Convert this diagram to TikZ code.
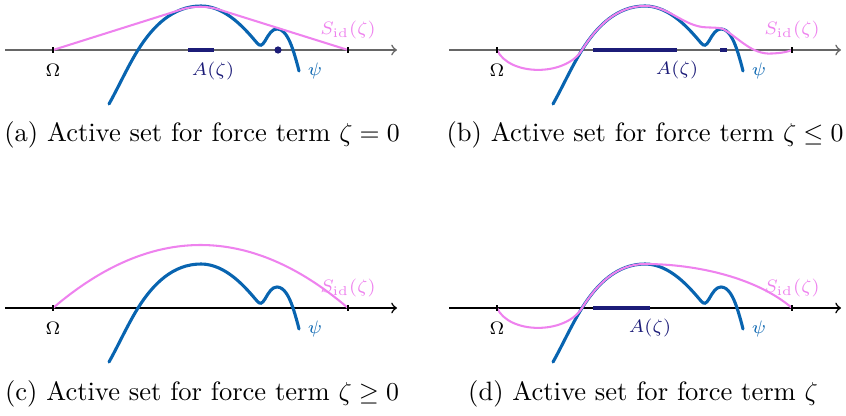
\documentclass[tikz,border=0pt]{standalone}
\usepackage{amsmath, amssymb}
\usetikzlibrary{positioning}
\definecolor{psiblue}{RGB}{8,100,176}
\definecolor{sidviolet}{RGB}{238,130,238}
\definecolor{actnavy}{RGB}{28,28,120}
\tikzstyle{psi}=[psiblue, line width=1.2pt]
\tikzstyle{sid}=[sidviolet, line width=0.8pt]
\tikzstyle{act}=[actnavy, line width=1.8pt]
\tikzstyle{omtick}=[fill=black, inner sep=0pt, minimum width=0.8pt, minimum height=2.4pt]
\tikzstyle{lbl}=[font=\scriptsize]
\tikzstyle{captxt}=[font=\fontsize{10.3}{12}\selectfont]

\begin{document}
\begin{tikzpicture}[x=0.01364cm, y=0.01364cm]
	\useasboundingbox (0,0) rectangle (846,415);

	% Axis, obstacle psi and labels of the four panels
	\foreach \p/\dx/\dy/\ac in {a/53/365/black!60, b/497/365/black!60, c/53/107/black, d/497/107/black}{
		\begin{scope}[shift={(\dx,\dy)}]
			\coordinate (l\p) at (-48,0);
			\coordinate (r\p) at (344,0);
			\draw[\ac, line width=0.6pt, ->] (l\p) -- (r\p);
			\draw[psi, line cap=round] (56,-54) .. controls (65,-38) and (75,-16) .. (85,0)
				.. controls (100,24) and (120,44) .. (148,44)
				.. controls (173,44) and (193,20) .. (204,7)
				.. controls (207,3.5) and (209,4) .. (212,9)
				.. controls (216,16) and (219,21) .. (224,21)
				.. controls (231,21) and (236,12) .. (240,0)
				.. controls (242,-6) and (244,-13) .. (246,-21);
			\node[lbl] (om\p) at (0,-20) {$\Omega$};
			\node[lbl, psiblue] (psi\p) at (262,-21) {$\psi$};
			\node[lbl, sidviolet] (sid\p) at (295,20) {$S_{\mathrm{id}}(\zeta)$};
		\end{scope}
	}

	% S_id for zeta = 0
	\begin{scope}[shift={(53,365)}]
		\draw[sid] (0,0) -- (128.4,40.5) .. controls (140,44.2) and (155,44.5) .. (169,39.5) -- (295,0);
		\draw[act] (135,0) -- (161,0);
		\fill[actnavy] (225,0) circle (1.4pt);
		\node[lbl, actnavy] (Aa) at (160,-21) {$A(\zeta)$};
	\end{scope}

	% S_id for zeta <= 0
	\begin{scope}[shift={(497,365)}]
		\draw[sid] (0,0) .. controls (12,-26) and (68,-27) .. (85,0)
			.. controls (100,24) and (120,44) .. (148,44)
			.. controls (170,44) and (185,26) .. (205,23)
			.. controls (215,22) and (220,23) .. (226,21)
			.. controls (242,12) and (255,-5) .. (275,-3.5)
			.. controls (285,-3) and (290,-2) .. (295,0);
		\draw[act] (96,0) -- (180,0);
		\draw[act] (223,0) -- (230,0);
		\node[lbl, actnavy] (Ab) at (180,-20) {$A(\zeta)$};
	\end{scope}

	% S_id for zeta >= 0
	\begin{scope}[shift={(53,107)}]
		\draw[sid] (0,0) .. controls (98.3,84) and (196.7,84) .. (295,0);
	\end{scope}

	% S_id for general zeta
	\begin{scope}[shift={(497,107)}]
		\draw[sid] (0,0) .. controls (12,-26) and (68,-27) .. (85,0)
			.. controls (100,24) and (120,44) .. (148,44)
			.. controls (200,44) and (260,30) .. (295,0);
		\draw[act] (96,0) -- (153,0);
		\node[lbl, actnavy] (Ad) at (153,-20) {$A(\zeta)$};
	\end{scope}

	% Ticks at the ends of Omega
	\foreach \p/\dx/\dy in {a/53/365, b/497/365, c/53/107, d/497/107}{
		\node[omtick] (tl\p) at (\dx,\dy) {};
		\node[omtick] (tr\p) at (\dx+295,\dy) {};
	}

	% Captions
	\node[captxt] (capa) at (202,280) {(a) Active set for force term $\zeta = 0$};
	\node[captxt] (capb) at (645,280) {(b) Active set for force term $\zeta \leq 0$};
	\node[captxt] (capc) at (202,21) {(c) Active set for force term $\zeta \geq 0$};
	\node[captxt] (capd) at (643,21) {(d) Active set for force term $\zeta$};
\end{tikzpicture}
\end{document}
